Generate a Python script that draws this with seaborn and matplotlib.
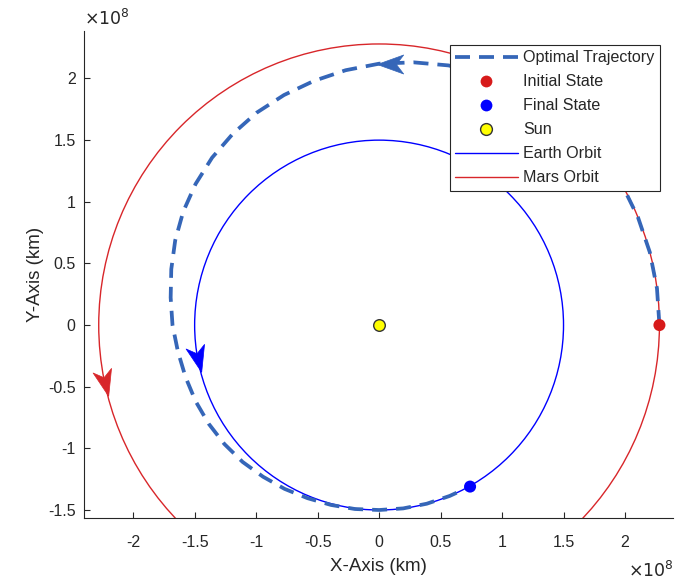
import numpy as np
import matplotlib
matplotlib.use("Agg")
import matplotlib.pyplot as plt
import seaborn as sns
from matplotlib.patches import Circle
from matplotlib.lines import Line2D
from matplotlib.markers import MarkerStyle
from matplotlib.path import Path
from matplotlib.transforms import Affine2D
from matplotlib.ticker import FuncFormatter

SCALE = 1e8  # km

# Optimal trajectory (units of 1e8 km)
traj_x = [2.280, 2.260, 2.202, 2.106, 1.975, 1.805, 1.598, 1.367, 1.115, 0.844,
          0.564, 0.281, 0.000, -0.272, -0.531, -0.773, -0.995, -1.190, -1.358,
          -1.492, -1.593, -1.658, -1.690, -1.695, -1.680, -1.636, -1.574, -1.492,
          -1.386, -1.258, -1.110, -0.944, -0.768, -0.582, -0.391, -0.196, 0.000,
          0.196, 0.388, 0.574, 0.740]
traj_y = [0.000, 0.298, 0.590, 0.873, 1.140, 1.385, 1.598, 1.781, 1.931, 2.037,
          2.106, 2.131, 2.120, 2.067, 1.980, 1.866, 1.723, 1.551, 1.358,
          1.145, 0.920, 0.687, 0.453, 0.223, 0.000, -0.215, -0.422, -0.618,
          -0.800, -0.965, -1.110, -1.230, -1.329, -1.404, -1.459, -1.492, -1.500,
          -1.487, -1.449, -1.386, -1.310]

# States
initial_state = (2.28, 0.0)
final_state = (0.74, -1.31)
sun_pos = (0.0, 0.0)

# Orbit radii
earth_radius = 1.50
mars_radius = 2.28

# Direction arrows: trajectory, Mars orbit, Earth orbit
arrow_x = [0.09, -2.23, -1.47]
arrow_y = [2.12, -0.47, -0.275]
arrow_angle = [180, -76, -76]

xticks = [-2, -1.5, -1, -0.5, 0, 0.5, 1, 1.5, 2]
yticks = [-1.5, -1, -0.5, 0, 0.5, 1, 1.5, 2]

sns.set_theme(style="white")
plt.rcParams['font.family'] = ['Liberation Sans', 'DejaVu Sans']
plt.rcParams['axes.unicode_minus'] = False

traj_color = '#3566b8'
mars_color = '#d8262a'
earth_color = '#0000ff'
axis_color = '#262626'
traj_dash = (0, (4.0, 2.4))

fig = plt.figure(figsize=(6.9, 5.81), dpi=100)
ax = fig.add_axes([0.1217, 0.1084, 0.8536, 0.8382])

# Orbits
ax.add_patch(Circle((0, 0), mars_radius * SCALE, fill=False, edgecolor=mars_color, lw=1.0, zorder=2))
ax.add_patch(Circle((0, 0), earth_radius * SCALE, fill=False, edgecolor=earth_color, lw=1.0, zorder=2))

# Trajectory
sns.lineplot(x=np.array(traj_x) * SCALE, y=np.array(traj_y) * SCALE, sort=False,
             estimator=None, ax=ax, color=traj_color, lw=2.7, linestyle=traj_dash, zorder=3)

# States
sns.scatterplot(x=[initial_state[0] * SCALE], y=[initial_state[1] * SCALE], ax=ax,
                color='#d71a1a', s=75, edgecolor='none', zorder=5)
sns.scatterplot(x=[final_state[0] * SCALE], y=[final_state[1] * SCALE], ax=ax,
                color='#0000ff', s=75, edgecolor='none', zorder=5)
sns.scatterplot(x=[sun_pos[0] * SCALE], y=[sun_pos[1] * SCALE], ax=ax,
                color='#ffff00', s=70, edgecolor='#333333', linewidth=1.0, zorder=5)

# Arrowheads (stealth shape)
arrow_path = Path([(1, 0), (-1, 0.72), (-0.45, 0), (-1, -0.72), (1, 0)],
                  [Path.MOVETO, Path.LINETO, Path.LINETO, Path.LINETO, Path.CLOSEPOLY])
arrow_colors = [traj_color, mars_color, earth_color]
for xa, ya, ang, c in zip(arrow_x, arrow_y, arrow_angle, arrow_colors):
    m = MarkerStyle(arrow_path, transform=Affine2D().rotate_deg(ang))
    ax.plot([xa * SCALE], [ya * SCALE], marker=m, ms=19, color=c, mec=c, mew=0.5,
            linestyle='none', zorder=6)

# Axes
ax.set_xlim(-2.40 * SCALE, 2.39 * SCALE)
ax.set_ylim(-1.565 * SCALE, 2.385 * SCALE)
ax.set_xticks(np.array(xticks) * SCALE)
ax.set_yticks(np.array(yticks) * SCALE)
fmt = FuncFormatter(lambda v, p: '%g' % round(v / SCALE, 4))
ax.xaxis.set_major_formatter(fmt)
ax.yaxis.set_major_formatter(fmt)
for side in ['top', 'right']:
    ax.spines[side].set_visible(False)
for side in ['left', 'bottom']:
    ax.spines[side].set_color(axis_color)
    ax.spines[side].set_linewidth(0.8)
ax.tick_params(axis='x', pad=12)
ax.tick_params(axis='y', pad=6)
ax.tick_params(direction='in', length=4, width=0.8, color=axis_color,
               labelsize=11.5, labelcolor=axis_color,
               bottom=True, left=True)
ax.set_xlabel('X-Axis (km)', fontsize=13.5, color=axis_color, labelpad=6)
ax.set_ylabel('Y-Axis (km)', fontsize=13.5, color=axis_color, labelpad=3)

# Exponent labels
fig.text(84 / 690, 1 - 18 / 581, r'$\times10^{8}$', fontsize=12.5, color=axis_color,
         ha='left', va='center')
fig.text(628 / 690, 1 - 570 / 581, r'$\times10^{8}$', fontsize=12.5, color=axis_color,
         ha='left', va='center')

# Legend
handles = [
    Line2D([], [], color=traj_color, lw=2.7, linestyle=traj_dash),
    Line2D([], [], color='#d71a1a', marker='o', ms=8.5, linestyle='none', mec='none'),
    Line2D([], [], color='#0000ff', marker='o', ms=8.5, linestyle='none', mec='none'),
    Line2D([], [], color='#ffff00', marker='o', ms=8.5, linestyle='none', mec='#333333', mew=1.0),
    Line2D([], [], color=earth_color, lw=1.0),
    Line2D([], [], color=mars_color, lw=1.0),
]
labels = ['Optimal Trajectory', 'Initial State', 'Final State', 'Sun', 'Earth Orbit', 'Mars Orbit']
leg = ax.legend(handles, labels, loc='upper right', bbox_to_anchor=(0.978, 0.971),
                fontsize=11.6, frameon=True, fancybox=False, framealpha=1,
                edgecolor=axis_color, handlelength=3.9, handletextpad=0.35,
                labelspacing=0.56, borderpad=0.32, borderaxespad=0)
leg.get_frame().set_linewidth(0.8)
leg.set_zorder(10)

fig.savefig('out.png', dpi=100)
